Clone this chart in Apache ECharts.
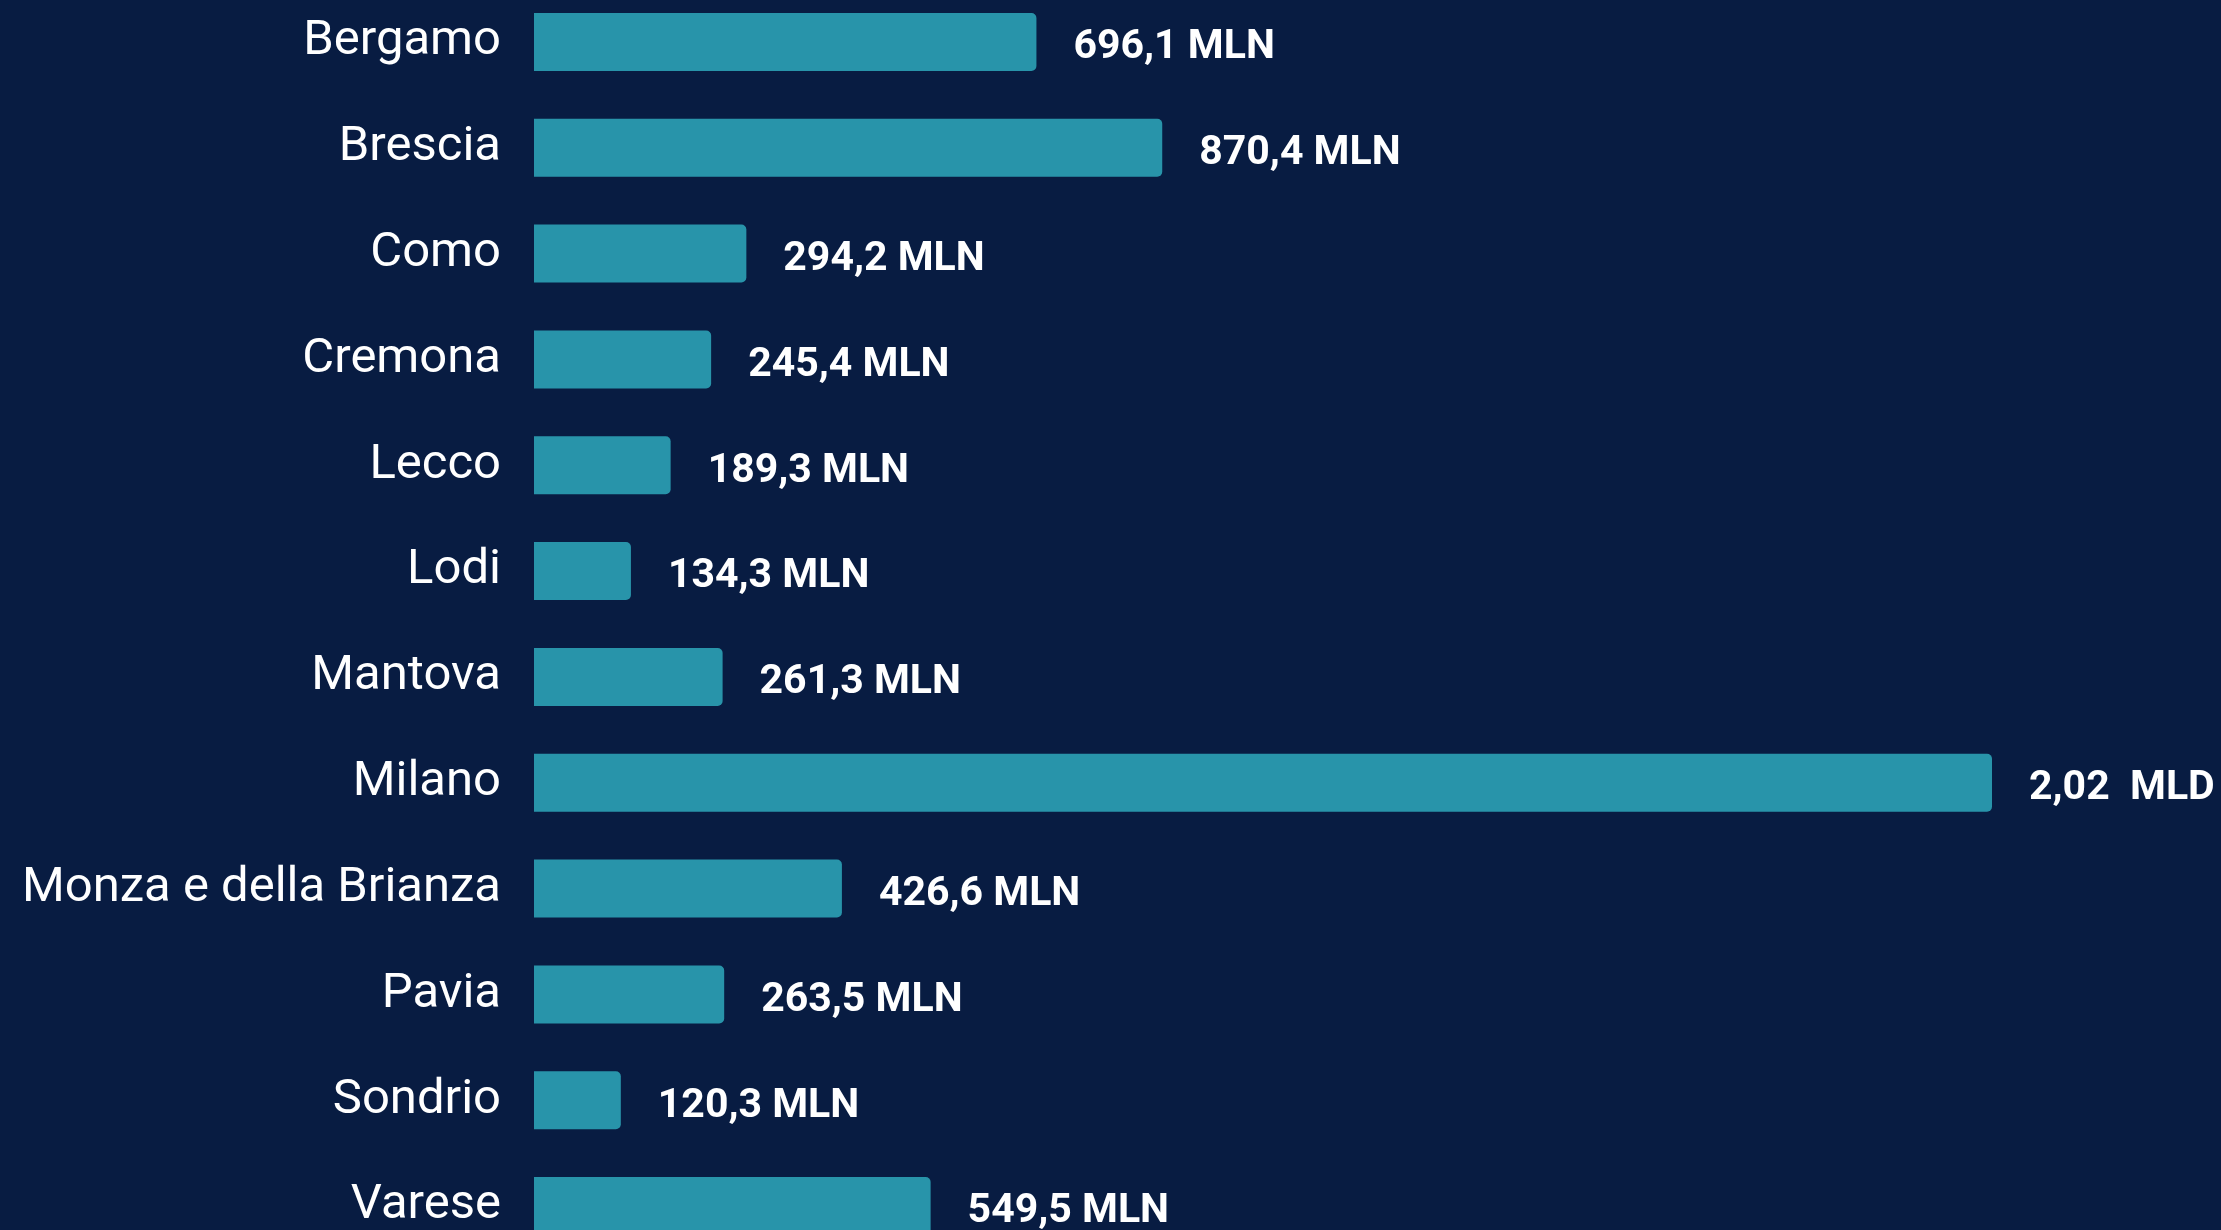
<!DOCTYPE html>
<html>
<head>
<meta charset="utf-8">
<style>
  html, body { margin: 0; padding: 0; background: #081c42; }
  #chart-container { width: 2221px; height: 1230px; }
</style>
</head>
<body>
<div id="chart-container"></div>
<script src="https://fastly.jsdelivr.net/npm/echarts@6.0.0/dist/echarts.min.js"></script>
<script type="text/javascript">
// provinces of Lombardy, values in millions of euro
var provinces = ['Bergamo', 'Brescia', 'Como', 'Cremona', 'Lecco', 'Lodi', 'Mantova',
                 'Milano', 'Monza e della Brianza', 'Pavia', 'Sondrio', 'Varese'];
var valuesMln = [696.1, 870.4, 294.2, 245.4, 189.3, 134.3, 261.3,
                 2020, 426.6, 263.5, 120.3, 549.5];

// label text: MLN under one billion, MLD above
function formatValue(v) {
    if (v >= 1000) {
        return (v / 1000).toFixed(2).replace('.', ',') + '  MLD';
    }
    return v.toFixed(1).replace('.', ',') + ' MLN';
}

var dom = document.getElementById('chart-container');
var myChart = echarts.init(dom, null, {
    renderer: 'canvas',
    useDirtyRect: false
});

var option = {
    backgroundColor: '#081c42',
    animation: false,
    grid: {
        left: 534,
        right: 229,
        top: -11,
        bottom: -29,
        containLabel: false,
        outerBoundsMode: 'none'
    },
    xAxis: {
        type: 'value',
        min: 0,
        max: 2020,
        show: false
    },
    yAxis: {
        type: 'category',
        inverse: true,
        data: provinces,
        axisLine: { show: false },
        axisTick: { show: false },
        splitLine: { show: false },
        axisLabel: {
            color: '#ffffff',
            fontFamily: 'Roboto',
            fontSize: 49,
            margin: 33
        }
    },
    series: [
        {
            type: 'bar',
            data: valuesMln,
            barWidth: 58,
            itemStyle: {
                color: '#2894aa',
                borderRadius: [0, 5, 5, 0]
            },
            label: {
                show: true,
                position: 'right',
                distance: 37,
                offset: [0, 6],
                color: '#ffffff',
                fontFamily: 'Roboto',
                fontWeight: 'bold',
                fontSize: 41,
                formatter: function (p) { return formatValue(p.value); }
            }
        }
    ]
};

myChart.setOption(option);
window.addEventListener('resize', myChart.resize);
</script>
</body>
</html>
